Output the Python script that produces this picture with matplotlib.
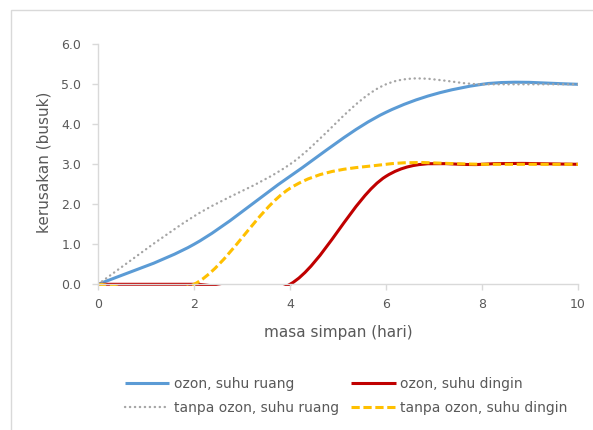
import matplotlib.pyplot as plt
from matplotlib.path import Path
from matplotlib.patches import PathPatch, Rectangle
from matplotlib.lines import Line2D

# data (days 0..10, every 2 days)
hari = [0, 2, 4, 6, 8, 10]
ozon_ruang = [0.0, 1.0, 2.7, 4.3, 5.0, 5.0]
ozon_dingin = [0.0, 0.0, 0.0, 2.7, 3.0, 3.0]
tanpa_ruang = [0.0, 1.7, 3.0, 5.0, 5.0, 5.0]
tanpa_dingin = [0.0, 0.0, 2.4, 3.0, 3.0, 3.0]

labels = ["ozon, suhu ruang", "ozon, suhu dingin",
          "tanpa ozon, suhu ruang", "tanpa ozon, suhu dingin"]
colors = ["#5B9BD5", "#C00000", "#A5A5A5", "#FFC000"]
styles = ["-", "-", (0, (0.1, 2.0)), (0, (2.7, 1.2))]
widths = [2.2, 2.2, 1.7, 2.2]

TXT = "#595959"


def smooth_path(x, y):
    """Excel-style smoothed line: cubic bezier through the points."""
    pts = list(zip(x, y))
    n = len(pts)
    verts = [pts[0]]
    codes = [Path.MOVETO]
    for i in range(n - 1):
        p0 = pts[max(i - 1, 0)]
        p1 = pts[i]
        p2 = pts[i + 1]
        p3 = pts[min(i + 2, n - 1)]
        c1 = (p1[0] + (p2[0] - p0[0]) / 6, p1[1] + (p2[1] - p0[1]) / 6)
        c2 = (p2[0] - (p3[0] - p1[0]) / 6, p2[1] - (p3[1] - p1[1]) / 6)
        verts += [c1, c2, p2]
        codes += [Path.CURVE4] * 3
    return Path(verts, codes)


fig = plt.figure(figsize=(5.93, 4.30), dpi=100)
ax = fig.add_axes([98 / 593, 1 - 284.3 / 430, 480 / 593, 240 / 430])

# light chart-area border (runs off the right/bottom edges)
fig.patches.append(Rectangle((11 / 593, -0.1), 2, 1.1 - 10 / 430, transform=fig.transFigure,
                             fill=False, edgecolor="#D9D9D9", lw=1.0))

# clip a touch below y=0 so lines lying on the axis keep their full width
clip = Rectangle((0, -0.006), 1, 1.02, transform=ax.transAxes, visible=False)
ax.add_patch(clip)

series = [ozon_ruang, ozon_dingin, tanpa_ruang, tanpa_dingin]
for ys, c, ls, lw in zip(series, colors, styles, widths):
    patch = PathPatch(smooth_path(hari, ys), fill=False, edgecolor=c, lw=lw,
                      linestyle=ls, capstyle="round" if c == "#A5A5A5" else "butt")
    ax.add_patch(patch)
    patch.set_clip_path(clip)

ax.set_xlim(0, 10)
ax.set_ylim(0, 6)
ax.set_xticks(hari)
ax.set_yticks([0, 1, 2, 3, 4, 5, 6])
ax.set_yticklabels([f"{v:.1f}" for v in [0, 1, 2, 3, 4, 5, 6]])

for s in ["top", "right"]:
    ax.spines[s].set_visible(False)
for s in ["left", "bottom"]:
    ax.spines[s].set_color("#D9D9D9")
    ax.spines[s].set_linewidth(1.0)
ax.tick_params(colors="#D9D9D9", labelcolor=TXT, labelsize=9, length=4, width=1.0)
ax.tick_params(axis="y", pad=8)
ax.tick_params(axis="x", pad=6)

fig.text(338 / 593, 1 - 333 / 430, "masa simpan (hari)", ha="center", va="center",
         fontsize=11, color=TXT)
fig.text(44 / 593, 1 - 162 / 430, "kerusakan (busuk)", ha="center", va="center",
         rotation=90, fontsize=11, color=TXT)

handles = [Line2D([], [], color=c, ls=ls, lw=lw, solid_capstyle="butt",
                  dash_capstyle="round" if c == "#A5A5A5" else "butt")
           for c, ls, lw in zip(colors, styles, widths)]
order = [0, 2, 1, 3]
fig.legend([handles[i] for i in order], [labels[i] for i in order], ncol=2,
           loc="center", bbox_to_anchor=(346 / 593, 1 - 396 / 430), frameon=False,
           fontsize=10, labelcolor=TXT, handlelength=3.2, handletextpad=0.3,
           columnspacing=0.9, labelspacing=0.75)

fig.savefig("out.png", dpi=100)
